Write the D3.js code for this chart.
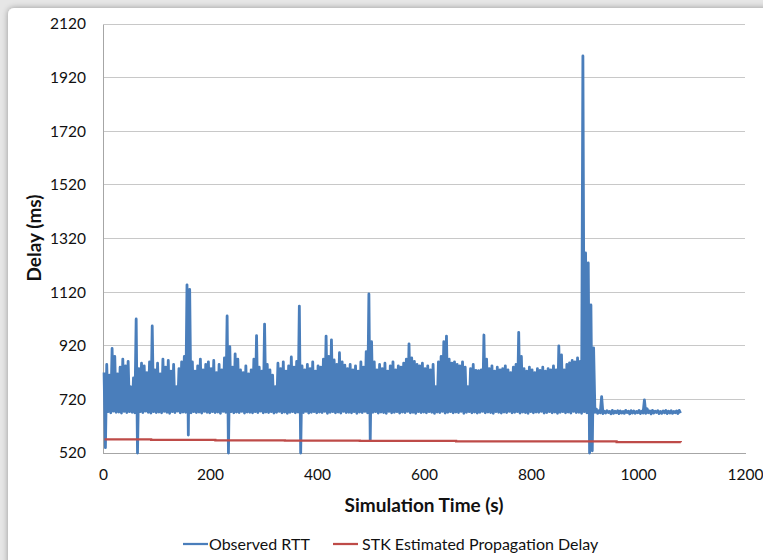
<!DOCTYPE html>
<html><head><meta charset="utf-8">
<script src="https://cdn.jsdelivr.net/npm/d3@7"></script>
<style>
html,body{margin:0;padding:0;background:#e6e6e6;}
svg{display:block;}
text{font-family:Lato,"Open Sans",sans-serif;fill:#111;}
</style></head>
<body>
<svg id="chart" width="763" height="560"></svg>
<script>
// ---- data ----
const xTicks = [0, 200, 400, 600, 800, 1000, 1200];
const yTicks = [520, 720, 920, 1120, 1320, 1520, 1720, 1920, 2120];
const rttStart = 2;   // s, first sample
const rttStep = 5;    // s between successive peak samples
// upper (peak) values of the Observed RTT trace, one every 5 s
const rttPeaks = [
  820, 850, 810, 910, 880, 815, 840, 870, 845, 862,
  767, 800, 1020, 835, 855, 845, 820, 860, 994, 830,
  855, 815, 870, 840, 865, 825, 850, 767, 835, 860,
  880, 1147, 1130, 860, 825, 845, 870, 830, 850, 860,
  835, 865, 820, 850, 830, 875, 1031, 917, 840, 890,
  870, 830, 820, 845, 815, 830, 870, 958, 840, 825,
  1001, 850, 830, 810, 767, 855, 835, 860, 825, 845,
  878, 840, 862, 1068, 845, 830, 850, 835, 860, 825,
  845, 840, 870, 956, 880, 942, 867, 850, 894, 860,
  848, 835, 850, 830, 845, 825, 860, 840, 898, 1113,
  935, 860, 830, 850, 835, 855, 825, 845, 860, 830,
  845, 840, 855, 870, 927, 875, 862, 850, 845, 855,
  835, 845, 830, 850, 767, 860, 880, 935, 956, 870,
  855, 860, 850, 845, 860, 840, 767, 835, 850, 828,
  827, 830, 960, 870, 835, 845, 825, 840, 830, 835,
  845, 830, 820, 840, 850, 970, 880, 835, 825, 840,
  830, 820, 835, 828, 840, 825, 835, 830, 845, 830,
  919, 886, 830, 850, 856, 865, 860, 875, 862, 2001,
  1266, 1229, 1072, 912,
  684, 678, 730, 676, 678, 675, 679, 676, 678, 677,
  675, 679, 676, 678, 677, 675, 679, 676, 718, 685,
  677, 679, 676, 678, 675, 677, 679, 676, 678, 675,
  677, 679
];
// lower (trough) values, each 2.5 s after its peak
const rttTroughs = [
  540, 674, 670, 676, 672, 673, 669, 675, 671, 674,
  672, 670, 520, 674, 671, 676, 672, 669, 674, 671,
  673, 670, 675, 672, 668, 674, 671, 676, 670, 673,
  672, 587, 670, 674, 671, 673, 669, 675, 672, 670,
  674, 671, 673, 668, 675, 672, 520, 674, 670, 673,
  671, 675, 669, 673, 672, 670, 674, 671, 676, 670,
  673, 671, 674, 669, 672, 675, 670, 673, 668, 672,
  674, 670, 673, 520, 671, 675, 669, 672, 674, 670,
  673, 671, 675, 668, 672, 674, 670, 673, 669, 675,
  671, 672, 670, 674, 668, 673, 671, 675, 670, 566,
  672, 674, 669, 673, 671, 668, 675, 670, 672, 674,
  669, 673, 671, 675, 670, 672, 668, 674, 671, 673,
  670, 674, 672, 668, 673, 671, 675, 669, 672, 674,
  670, 673, 671, 675, 668, 672, 674, 670, 673, 669,
  672, 675, 670, 673, 671, 668, 674, 672, 669, 673,
  671, 675, 670, 672, 674, 669, 673, 671, 668, 674,
  670, 673, 672, 675, 669, 671, 674, 670, 673, 668,
  672, 674, 670, 673, 669, 675, 671, 672, 668, 674,
  670, 520, 528, 672,
  668, 670, 667, 669, 671, 666, 668, 670, 667, 669,
  668, 671, 666, 669, 668, 670, 667, 669, 668, 670,
  666, 669, 671, 667, 668, 670, 667, 669, 668, 670,
  667, 669
];
const propTimes = [3, 90, 210, 340, 480, 660, 960, 1080];
const propValues = [571, 569, 567, 566, 565, 563, 561, 560];
const seriesNames = ["Observed RTT", "STK Estimated Propagation Delay"];
const seriesColors = ["#4a7ebb", "#be4b48"];

// ---- layout ----
const svg = d3.select("#chart");
const W = 763, H = 560;
const m = {left: 103, right: 745, top: 24, bottom: 453};

// background box
svg.append("rect").attr("width", W).attr("height", H).attr("fill", "#e6e6e6");
const defs = svg.append("defs");
const f = defs.append("filter").attr("id", "sh").attr("x", "-5%").attr("y", "-5%").attr("width", "110%").attr("height", "110%");
f.append("feGaussianBlur").attr("in", "SourceAlpha").attr("stdDeviation", 3);
f.append("feOffset").attr("dx", 0).attr("dy", 0).attr("result", "b");
f.append("feComponentTransfer").append("feFuncA").attr("type", "linear").attr("slope", 0.35);
const fm = f.append("feMerge"); fm.append("feMergeNode"); fm.append("feMergeNode").attr("in", "SourceGraphic");
svg.append("rect").attr("x", 8).attr("y", 8).attr("width", W + 20).attr("height", H + 20)
  .attr("rx", 6).attr("fill", "#fff").attr("filter", "url(#sh)");

const x = d3.scaleLinear().domain([0, 1200]).range([m.left, m.right]);
const y = d3.scaleLinear().domain([520, 2120]).range([m.bottom, m.top]);

// gridlines
svg.append("g").selectAll("line").data(yTicks.slice(1)).join("line")
  .attr("x1", m.left).attr("x2", m.right)
  .attr("y1", d => y(d)).attr("y2", d => y(d))
  .attr("stroke", "#c8c8c8").attr("stroke-width", 1).attr("shape-rendering", "crispEdges");

// axes
const yAxis = svg.append("g").attr("transform", `translate(${m.left},0)`)
  .call(d3.axisLeft(y).tickValues(yTicks).tickSize(0).tickPadding(17).tickFormat(d3.format("d")));
const xAxis = svg.append("g").attr("transform", `translate(0,${m.bottom})`)
  .call(d3.axisBottom(x).tickValues(xTicks).tickSize(0).tickPadding(16).tickFormat(d3.format("d")));
[yAxis, xAxis].forEach(g => {
  g.select(".domain").attr("stroke", "#a6a6a6").attr("stroke-width", 1).attr("shape-rendering", "crispEdges");
  g.selectAll("text").attr("font-family", "Lato, sans-serif").attr("font-size", "15.5px").attr("fill", "#111");
});

// series: observed RTT
const rttPts = [];
rttPeaks.forEach((v, i) => {
  const t = rttStart + i * rttStep;
  rttPts.push([t, v]);
  rttPts.push([t + rttStep / 2, rttTroughs[i]]);
});
const line = d3.line().x(d => x(d[0])).y(d => y(d[1]));
svg.append("path").datum(rttPts).attr("d", line)
  .attr("fill", "none").attr("stroke", seriesColors[0]).attr("stroke-width", 2.8).attr("stroke-linejoin", "round");

// series: propagation delay
const propPts = propTimes.map((t, i) => [t, propValues[i]]);
svg.append("path").datum(propPts).attr("d", d3.line().x(d => x(d[0])).y(d => y(d[1])).curve(d3.curveStepAfter))
  .attr("fill", "none").attr("stroke", seriesColors[1]).attr("stroke-width", 2.25);

// titles
svg.append("text").attr("x", 424).attr("y", 512).attr("text-anchor", "middle")
  .attr("font-size", "19px").attr("font-weight", "bold").text("Simulation Time (s)");
svg.append("text").attr("transform", "translate(41,238) rotate(-90)").attr("text-anchor", "middle")
  .attr("font-size", "19px").attr("font-weight", "bold").text("Delay (ms)");

// legend
const leg = [{x: 183, tx: 209}, {x: 333, tx: 362}];
leg.forEach((p, i) => {
  svg.append("line").attr("x1", p.x).attr("x2", p.x + 25).attr("y1", 544).attr("y2", 544)
    .attr("stroke", seriesColors[i]).attr("stroke-width", 2.25);
  svg.append("text").attr("x", p.tx).attr("y", 549.5).attr("font-size", "16px").text(seriesNames[i]);
});
</script>
</body></html>
